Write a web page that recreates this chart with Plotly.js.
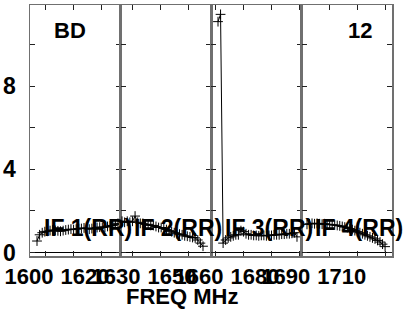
<!DOCTYPE html>
<html>
<head>
<meta charset="utf-8">
<script src="https://cdn.plot.ly/plotly-3.0.1.min.js"></script>
<style>html,body{margin:0;padding:0;background:#fff;}#chart{width:407px;height:311px;}</style>
</head>
<body>
<div id="chart"></div>
<script>
// Panel labels
const panelLabels = ["IF 1(RR)", "IF 2(RR)", "IF 3(RR)", "IF 4(RR)"];
// Channel grids (MHz): first channel frequency and channel width per IF
const chanStart = [1597.14, 1626.43, 1661.07, 1691.86];
const chanWidth = [0.933, 0.933, 0.91, 0.899];
// Amplitudes per channel
const if1 = [0.55, 0.85, 0.95, 1.0, 1.02, 1.05, 1.08, 1.06, 1.04, 1.02, 1.05, 1.08, 1.1, 1.12, 1.1, 1.12,
             1.15, 1.15, 1.18, 1.15, 1.12, 1.15, 1.18, 1.2, 1.22, 1.2, 1.22, 1.25, 1.28, 1.3, 1.35, 1.4];
const if2 = [1.5, 1.45, 1.5, 1.45, 1.5, 1.75, 1.45, 1.4, 1.4, 1.35, 1.35, 1.3, 1.3, 1.25, 1.2, 1.2,
             1.15, 1.1, 1.05, 1.0, 0.95, 0.9, 0.88, 0.85, 0.8, 0.78, 0.75, 0.72, 0.7, 0.6, 0.45, 0.3];
const if3 = [11.1, 11.45, 0.45, 0.6, 0.7, 0.75, 0.8, 0.85, 0.85, 1.05, 1.0, 0.9, 0.85, 0.85, 0.82, 0.82,
             0.8, 0.82, 0.82, 0.8, 0.82, 0.82, 0.85, 0.85, 0.85, 0.88, 0.88, 0.9, 0.9, 0.92, 0.95, 0.75];
const if4 = [1.35, 1.38, 1.4, 1.38, 1.4, 1.38, 1.36, 1.38, 1.35, 1.35, 1.33, 1.32, 1.3, 1.28, 1.25, 1.22,
             1.2, 1.15, 1.1, 1.05, 1.0, 0.95, 0.9, 0.85, 0.8, 0.75, 0.7, 0.65, 0.58, 0.5, 0.4, 0.28];
const series = [if1, if2, if3, if4];
// Axis ranges and ticks (MHz)
const xRanges = [[1594.64, 1626.96], [1625.89, 1658.21], [1658.57, 1690.89], [1689.9, 1722.2]];
const xTickVals = [[1600, 1610, 1620], [1630, 1640, 1650], [1660, 1670, 1680, 1690], [1690, 1700, 1710, 1720]];
const xTickText = [["1600", "", "1620"], ["1630", "", "1650"], ["1660", "", "1680", ""], ["1690", "", "1710", ""]];
const yTickVals = [0, 2, 4, 6, 8, 10];
const yTickText = ["0", "", "4", "", "8", ""];
const yRange = [-0.17, 11.9];
const sourceLabel = "BD";
const baselineLabel = "12";
const xTitle = "FREQ MHz";

const FONT = "Liberation Sans, Arial, sans-serif";
const domains = [[0, 0.25], [0.25, 0.5], [0.5, 0.75], [0.75, 1]];
const frame = "#707070";

const traces = series.map((vals, i) => ({
  type: "scatter",
  mode: "lines+markers",
  x: vals.map((_, k) => chanStart[i] + k * chanWidth[i]),
  y: vals,
  xaxis: i === 0 ? "x" : "x" + (i + 1),
  yaxis: i === 0 ? "y" : "y" + (i + 1),
  line: {color: "#000", width: 1},
  marker: {symbol: "cross-thin", size: 7, line: {color: "#000", width: 1}},
  showlegend: false,
  hoverinfo: "skip"
}));

const layout = {
  width: 407, height: 311,
  margin: {l: 30, r: 15, t: 5, b: 55},
  paper_bgcolor: "#fff", plot_bgcolor: "#fff",
  showlegend: false,
  annotations: []
};

for (let i = 0; i < 4; i++) {
  const sx = i === 0 ? "" : String(i + 1);
  layout["xaxis" + sx] = {
    domain: domains[i], range: xRanges[i], anchor: "y" + sx,
    showline: true, linecolor: frame, linewidth: 1.5, mirror: "ticks",
    showgrid: false, zeroline: false,
    tickmode: "array", tickvals: xTickVals[i], ticktext: xTickText[i].map(t => t ? "<b>" + t + "</b>" : ""),
    ticks: "inside", ticklen: 5, tickcolor: "#222", tickwidth: 1,
    tickangle: 0, ticklabeloverflow: "allow",
    ticklabelshift: -16, ticklabelstandoff: 0,
    tickfont: {family: FONT, size: 22, color: "#000"}
  };
  layout["yaxis" + sx] = {
    domain: [0, 1], range: yRange, anchor: "x" + sx,
    showline: true, linecolor: frame, linewidth: 1.5, mirror: "ticks",
    showgrid: false, zeroline: true, zerolinecolor: "#000", zerolinewidth: 1,
    tickmode: "array", tickvals: yTickVals, ticktext: yTickText.map(t => t ? "<b>" + t + "</b>" : ""),
    ticks: "inside", ticklen: 5, tickcolor: "#222", tickwidth: 1,
    showticklabels: i === 0, ticklabelstandoff: 8, ticklabeloverflow: "allow",
    tickfont: {family: FONT, size: 23, color: "#000"}
  };
  layout.annotations.push({
    text: "<b>" + panelLabels[i] + "</b>", xref: "x" + sx + " domain", yref: "paper",
    x: 0.13, y: 0.112, xanchor: "left", yanchor: "middle", showarrow: false,
    font: {family: FONT, size: 23, color: "#000"}
  });
}

layout.annotations.push({
  text: "<b>" + sourceLabel + "</b>", xref: "paper", yref: "paper", x: 0.11, y: 0.9,
  xanchor: "center", yanchor: "middle", showarrow: false,
  font: {family: FONT, size: 22, color: "#000"}
});
layout.annotations.push({
  text: "<b>" + baselineLabel + "</b>", xref: "paper", yref: "paper", x: 0.912, y: 0.9,
  xanchor: "center", yanchor: "middle", showarrow: false,
  font: {family: FONT, size: 22, color: "#000"}
});
layout.annotations.push({
  text: "<b>" + xTitle + "</b>", xref: "paper", yref: "paper", x: 0.421, y: -0.163,
  xanchor: "center", yanchor: "middle", showarrow: false,
  font: {family: FONT, size: 22, color: "#000"}
});

Plotly.newPlot("chart", traces, layout, {staticPlot: true, displayModeBar: false});
</script>
</body>
</html>
